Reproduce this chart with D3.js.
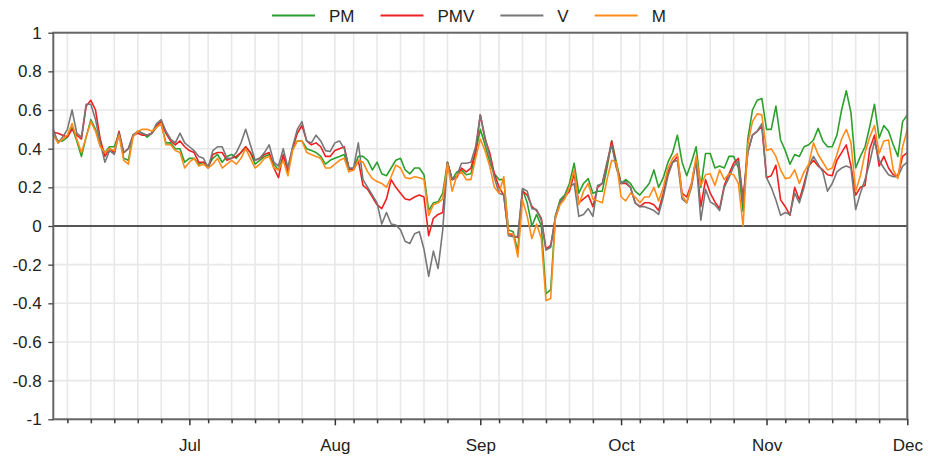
<!DOCTYPE html>
<html>
<head>
<meta charset="utf-8">
<script src="https://cdn.jsdelivr.net/npm/d3@7"></script>
<style>
  html, body { margin: 0; padding: 0; background: #fff; }
  svg { display: block; font-family: "Liberation Sans", Arial, sans-serif; }
</style>
</head>
<body>
<svg id="chart" width="928" height="463"></svg>
<script>
// ---- data (daily, starting 2 June) ----
const startDate = "2023-06-02";
const seriesNames = ["PM", "PMV", "V", "M"];
const seriesColors = ["#2ca02c", "#ee2020", "#777777", "#ff8c1a"];

const PM = [
  0.47,0.44,0.44,0.46,0.51,0.44,0.36,0.46,0.55,0.50,0.42,0.38,0.41,0.41,0.48,0.35,0.34,0.47,0.49,0.48,0.46,0.48,0.51,0.53,0.43,0.43,0.40,0.40,0.33,
  0.35,0.35,0.32,0.33,0.31,0.35,0.37,0.33,0.36,0.37,0.35,0.38,0.41,0.38,0.32,0.34,0.36,0.37,0.32,0.29,0.36,0.30,0.40,0.44,0.44,0.40,0.39,0.38,0.36,0.32,0.34,
  0.35,0.36,0.37,0.29,0.30,0.36,0.36,0.34,0.29,0.33,0.27,0.26,0.30,0.34,0.35,0.29,0.27,0.30,0.30,0.265,0.08,0.12,0.125,0.17,0.33,0.24,0.28,0.29,0.265,0.27,0.38,
  0.50,0.42,0.33,0.27,0.24,0.24,-0.02,-0.03,-0.13,0.19,0.12,0.00,0.06,0.00,-0.35,-0.33,0.05,0.135,0.16,0.22,0.325,0.17,0.22,0.245,0.17,0.18,0.18,0.30,0.44,0.33,
  0.22,0.24,0.22,0.18,0.16,0.19,0.22,0.29,0.20,0.25,0.33,0.38,0.47,0.33,0.26,0.33,0.41,0.20,0.375,0.375,0.30,0.31,0.30,0.36,0.36,0.30,0.075,0.45,0.60,0.65,0.66,
  0.50,0.50,0.62,0.445,0.39,0.32,0.37,0.36,0.41,0.42,0.445,0.505,0.44,0.41,0.41,0.47,0.60,0.70,0.585,0.30,0.36,0.41,0.515,0.63,0.455,0.52,0.49,0.42,0.36,0.54,
  0.575
];
const PMV = [
  0.485,0.48,0.47,0.46,0.50,0.47,0.45,0.62,0.65,0.60,0.45,0.36,0.40,0.38,0.49,0.38,0.40,0.47,0.48,0.47,0.47,0.48,0.52,0.54,0.48,0.44,0.42,0.44,0.41,
  0.39,0.38,0.33,0.33,0.30,0.37,0.38,0.38,0.34,0.35,0.36,0.38,0.41,0.38,0.34,0.35,0.37,0.38,0.30,0.25,0.37,0.28,0.40,0.48,0.52,0.44,0.42,0.43,0.41,0.36,0.36,
  0.39,0.40,0.41,0.30,0.29,0.34,0.21,0.19,0.15,0.11,0.09,0.14,0.24,0.20,0.17,0.14,0.135,0.15,0.16,0.15,-0.05,0.04,0.06,0.07,0.33,0.24,0.25,0.30,0.28,0.30,0.385,
  0.575,0.45,0.38,0.27,0.20,0.16,-0.04,-0.05,-0.06,0.18,0.16,0.10,0.08,0.04,-0.12,-0.10,0.04,0.12,0.15,0.18,0.27,0.12,0.14,0.16,0.10,0.20,0.22,0.32,0.44,0.31,
  0.22,0.22,0.20,0.12,0.10,0.12,0.12,0.11,0.08,0.17,0.28,0.33,0.36,0.17,0.15,0.22,0.34,0.10,0.24,0.17,0.125,0.09,0.21,0.27,0.325,0.35,0.14,0.38,0.47,0.49,0.515,
  0.25,0.26,0.315,0.135,0.10,0.055,0.20,0.135,0.22,0.31,0.34,0.31,0.29,0.265,0.26,0.34,0.38,0.42,0.31,0.16,0.20,0.21,0.40,0.47,0.31,0.36,0.30,0.265,0.26,0.36,
  0.38
];
const V = [
  0.50,0.43,0.46,0.50,0.60,0.48,0.46,0.63,0.63,0.55,0.43,0.33,0.39,0.37,0.48,0.38,0.40,0.47,0.49,0.48,0.47,0.48,0.53,0.55,0.49,0.45,0.43,0.48,0.43,
  0.41,0.39,0.36,0.35,0.30,0.39,0.41,0.41,0.35,0.35,0.38,0.43,0.50,0.42,0.34,0.35,0.38,0.42,0.33,0.31,0.40,0.30,0.41,0.50,0.54,0.44,0.43,0.47,0.44,0.39,0.385,
  0.43,0.44,0.40,0.30,0.30,0.43,0.24,0.20,0.16,0.12,0.01,0.07,0.01,0.005,-0.02,-0.08,-0.09,-0.04,-0.03,-0.12,-0.26,-0.13,-0.22,-0.02,0.33,0.24,0.26,0.325,0.325,0.33,0.41,
  0.575,0.46,0.36,0.25,0.17,0.16,-0.05,-0.055,-0.055,0.195,0.18,0.09,0.085,0.03,-0.125,-0.11,0.05,0.125,0.15,0.20,0.22,0.05,0.06,0.09,0.05,0.21,0.22,0.33,0.42,0.30,
  0.22,0.23,0.20,0.12,0.10,0.10,0.09,0.08,0.06,0.15,0.26,0.33,0.34,0.14,0.12,0.20,0.34,0.03,0.19,0.125,0.11,0.08,0.20,0.25,0.31,0.335,0.12,0.38,0.47,0.49,0.53,
  0.25,0.20,0.135,0.055,0.07,0.06,0.17,0.12,0.20,0.31,0.36,0.32,0.28,0.18,0.22,0.28,0.30,0.31,0.30,0.085,0.17,0.24,0.33,0.44,0.34,0.30,0.265,0.255,0.255,0.31,
  0.33
];
const M = [
  0.47,0.43,0.45,0.47,0.53,0.45,0.38,0.46,0.54,0.49,0.41,0.38,0.40,0.39,0.47,0.34,0.32,0.46,0.49,0.50,0.50,0.49,0.51,0.53,0.42,0.42,0.39,0.38,0.30,
  0.33,0.35,0.31,0.32,0.30,0.32,0.35,0.30,0.32,0.34,0.32,0.35,0.40,0.35,0.30,0.32,0.35,0.36,0.30,0.29,0.34,0.26,0.39,0.44,0.44,0.38,0.37,0.36,0.35,0.30,0.30,
  0.32,0.34,0.35,0.28,0.29,0.34,0.33,0.28,0.245,0.23,0.22,0.20,0.255,0.315,0.30,0.25,0.245,0.255,0.25,0.24,0.055,0.11,0.12,0.14,0.32,0.18,0.26,0.28,0.24,0.24,0.35,
  0.45,0.39,0.31,0.20,0.17,0.255,-0.04,-0.04,-0.16,0.135,0.05,-0.065,0.01,-0.065,-0.385,-0.375,0.04,0.11,0.14,0.20,0.29,0.11,0.18,0.22,0.14,0.13,0.12,0.24,0.34,0.33,
  0.15,0.13,0.17,0.15,0.12,0.15,0.15,0.20,0.13,0.20,0.30,0.35,0.375,0.16,0.12,0.22,0.36,0.21,0.265,0.27,0.21,0.29,0.24,0.27,0.265,0.22,0.0,0.42,0.54,0.58,0.575,
  0.39,0.40,0.36,0.29,0.245,0.25,0.29,0.22,0.28,0.32,0.43,0.37,0.33,0.29,0.30,0.37,0.45,0.50,0.43,0.18,0.26,0.38,0.46,0.52,0.375,0.44,0.445,0.29,0.245,0.41,
  0.50
];
const seriesValues = [PM, PMV, V, M];

const domainStart = "2023-06-02";
const domainEnd = "2023-12-01";
const monthTicks = ["2023-07-01","2023-08-01","2023-09-01","2023-10-01","2023-11-01","2023-12-01"];
const monthLabels = ["Jul","Aug","Sep","Oct","Nov","Dec"];
const minorTickMonths = ["2023-06","2023-07","2023-08","2023-09","2023-10","2023-11"];
const minorTickDays = [5,10,15,20,25];
const yTicks = [-1,-0.8,-0.6,-0.4,-0.2,0,0.2,0.4,0.6,0.8,1];
const yTickLabels = ["-1","-0.8","-0.6","-0.4","-0.2","0","0.2","0.4","0.6","0.8","1"];

// ---- layout ----
const W = 928, H = 463;
const margin = {left: 53.3, right: 20.7, top: 32.7, bottom: 43.7};
const iw = W - margin.left - margin.right;
const ih = H - margin.top - margin.bottom;
const parse = d3.timeParse("%Y-%m-%d");

const dates = PM.map((_, i) => d3.timeDay.offset(parse(startDate), i));
const minorTicks = [];
minorTickMonths.forEach(m => minorTickDays.forEach(d => minorTicks.push(parse(m + "-" + String(d).padStart(2, "0")))));
const majorTicks = monthTicks.map(parse);
const allTicks = minorTicks.concat(majorTicks);

const x = d3.scaleTime().domain([parse(domainStart), parse(domainEnd)]).range([0, iw]);
const y = d3.scaleLinear().domain([-1, 1]).range([ih, 0]);

const svg = d3.select("#chart");
const g = svg.append("g").attr("transform", `translate(${margin.left},${margin.top})`);

// grid
g.append("g").selectAll("line").data(yTicks).join("line")
  .attr("x1", 0).attr("x2", iw).attr("y1", d => y(d)).attr("y2", d => y(d))
  .attr("stroke", "#e8e8e8").attr("stroke-width", 1.6);
g.append("g").selectAll("line").data(allTicks).join("line")
  .attr("x1", d => x(d)).attr("x2", d => x(d)).attr("y1", 0).attr("y2", ih)
  .attr("stroke", "#e8e8e8").attr("stroke-width", 1.6);

// zero line
g.append("line").attr("x1", 0).attr("x2", iw).attr("y1", y(0)).attr("y2", y(0))
  .attr("stroke", "#555").attr("stroke-width", 2);

// series
const line = d3.line().x((d, i) => x(dates[i])).y(d => y(d));
seriesValues.forEach((vals, k) => {
  g.append("path").datum(vals)
    .attr("fill", "none").attr("stroke", seriesColors[k])
    .attr("stroke-width", 1.6).attr("stroke-linejoin", "round")
    .attr("d", line);
});

// frame
g.append("rect").attr("x", 0).attr("y", 0).attr("width", iw).attr("height", ih)
  .attr("fill", "none").attr("stroke", "#666").attr("stroke-width", 2);

// y axis
const yAxis = g.append("g").call(d3.axisLeft(y).tickValues(yTicks)
  .tickFormat((d, i) => yTickLabels[i]).tickSize(5).tickPadding(6.6));
yAxis.select(".domain").remove();
yAxis.selectAll(".tick line").attr("stroke", "#444").attr("stroke-width", 1.3);
yAxis.selectAll("text").attr("font-size", 17).attr("fill", "#222")
  .attr("font-family", "'Liberation Sans', Arial, sans-serif");

// x axis minor
const xMinor = g.append("g").attr("transform", `translate(0,${ih})`)
  .call(d3.axisBottom(x).tickValues(minorTicks).tickFormat("").tickSize(4));
xMinor.select(".domain").remove();
xMinor.selectAll(".tick line").attr("stroke", "#333").attr("stroke-width", 1.5);

// x axis major
const xMajor = g.append("g").attr("transform", `translate(0,${ih})`)
  .call(d3.axisBottom(x).tickValues(majorTicks).tickFormat((d, i) => monthLabels[i]).tickSize(6));
xMajor.select(".domain").remove();
xMajor.selectAll(".tick line").attr("stroke", "#333").attr("stroke-width", 1.5);
xMajor.selectAll("text").attr("font-size", 17).attr("fill", "#222").attr("y", 32).attr("dy", 0)
  .attr("font-family", "'Liberation Sans', Arial, sans-serif");

// legend
const legend = svg.append("g");
let lx = 272;
seriesNames.forEach((name, k) => {
  legend.append("line").attr("x1", lx).attr("x2", lx + 43).attr("y1", 15.5).attr("y2", 15.5)
    .attr("stroke", seriesColors[k]).attr("stroke-width", 2);
  const t = legend.append("text").attr("x", lx + 57).attr("y", 21.6)
    .attr("font-size", 17).attr("fill", "#222").text(name);
  lx = lx + 57 + t.node().getComputedTextLength() + 26;
});
</script>
</body>
</html>
